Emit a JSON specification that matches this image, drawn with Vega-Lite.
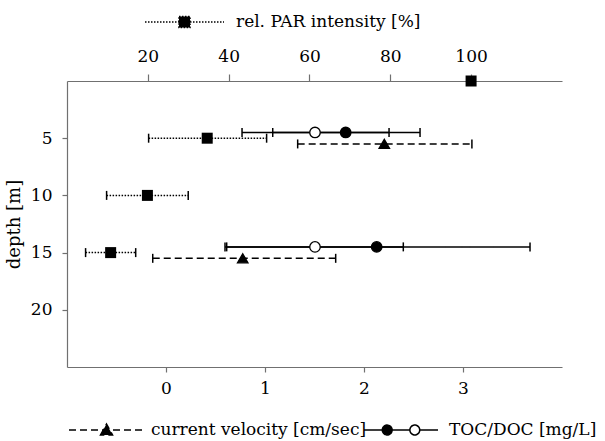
{
  "$schema": "https://vega.github.io/schema/vega-lite/v6.json",
  "width": 495,
  "height": 286,
  "autosize": {"type": "none"},
  "padding": {"left": 67, "top": 81, "right": 43, "bottom": 74},
  "background": "white",
  "config": {
    "view": {"stroke": null},
    "font": "DejaVu Serif",
    "axis": {
      "labelFont": "DejaVu Serif", "labelFontSize": 17, "labelColor": "black",
      "titleFont": "DejaVu Serif", "titleFontSize": 18, "titleFontWeight": "normal", "titleColor": "black",
      "domainColor": "#707070", "tickColor": "#707070", "domainWidth": 1.2, "tickWidth": 1.2,
      "tickSize": 5, "grid": false, "labelPadding": 9
    },
    "legend": {
      "labelFont": "DejaVu Serif", "labelFontSize": 17, "labelColor": "black",
      "labelLimit": 400, "padding": 0, "symbolFillColor": "black", "symbolStrokeColor": "black", "symbolStrokeWidth": 1.5
    }
  },
  "datasets": {
    "par": [
      {"depth": 0, "par": 100, "lo": null, "hi": null, "legend": "rel. PAR intensity [%]"},
      {"depth": 5, "par": 34.7, "lo": 20.2, "hi": 49.4, "legend": "rel. PAR intensity [%]"},
      {"depth": 10, "par": 19.9, "lo": 9.8, "hi": 30.0, "legend": "rel. PAR intensity [%]"},
      {"depth": 15, "par": 10.8, "lo": 4.6, "hi": 17.0, "legend": "rel. PAR intensity [%]"}
    ],
    "obs": [
      {"series": "velocity", "depth": 5.5, "val": 2.205, "lo": 1.33, "hi": 3.09, "legend": "current velocity [cm/sec]"},
      {"series": "TOC", "depth": 4.5, "val": 1.815, "lo": 1.078, "hi": 2.566, "legend": "TOC/DOC [mg/L]"},
      {"series": "DOC", "depth": 4.5, "val": 1.505, "lo": 0.768, "hi": 2.253, "legend": "TOC/DOC [mg/L]"},
      {"series": "velocity", "depth": 15.5, "val": 0.775, "lo": -0.134, "hi": 1.714, "legend": "current velocity [cm/sec]"},
      {"series": "TOC", "depth": 14.5, "val": 2.128, "lo": 0.613, "hi": 3.677, "legend": "TOC/DOC [mg/L]"},
      {"series": "DOC", "depth": 14.5, "val": 1.505, "lo": 0.596, "hi": 2.397, "legend": "TOC/DOC [mg/L]"}
    ]
  },
  "layer": [
    {
      "data": {"name": "par"},
      "transform": [{"filter": "isValid(datum.lo)"}],
      "mark": {"type": "rule", "strokeWidth": 1.5, "color": "black"},
      "encoding": {
        "x": {"field": "lo", "type": "quantitative", "scale": {"domain": [0, 122.5], "nice": false, "zero": false},
              "axis": {"orient": "top", "values": [20, 40, 60, 80, 100], "title": null, "tickSize": 7, "labelPadding": 9}},
        "x2": {"field": "hi"},
        "y": {"field": "depth", "type": "quantitative", "scale": {"domain": [0, 25], "reverse": true, "nice": false, "zero": false},
              "axis": {"values": [5, 10, 15, 20], "title": "depth [m]", "titlePadding": 7, "labelPadding": 10}},
        "strokeDash": {"field": "legend", "type": "nominal",
          "scale": {"domain": ["rel. PAR intensity [%]"], "range": [[1.5, 1.5]]},
          "legend": {"title": null, "orient": "none", "legendX": 77, "legendY": -70, "direction": "horizontal",
            "symbolSize": 6241, "clipHeight": 22, "labelOffset": 11,
            "symbolType": "M-1,0H1M-0.14,-0.14H0.14V0.14H-0.14Z"}}
      }
    },
    {
      "data": {"name": "par"},
      "transform": [{"filter": "isValid(datum.lo)"}],
      "mark": {"type": "tick", "orient": "vertical", "size": 9, "thickness": 1.5, "color": "black", "opacity": 1},
      "encoding": {
        "x": {"field": "lo", "type": "quantitative", "scale": {"domain": [0, 122.5], "nice": false, "zero": false}, "axis": null},
        "y": {"field": "depth", "type": "quantitative", "scale": {"domain": [0, 25], "reverse": true, "nice": false, "zero": false}}
      }
    },
    {
      "data": {"name": "par"},
      "transform": [{"filter": "isValid(datum.hi)"}],
      "mark": {"type": "tick", "orient": "vertical", "size": 9, "thickness": 1.5, "color": "black", "opacity": 1},
      "encoding": {
        "x": {"field": "hi", "type": "quantitative", "scale": {"domain": [0, 122.5], "nice": false, "zero": false}, "axis": null},
        "y": {"field": "depth", "type": "quantitative", "scale": {"domain": [0, 25], "reverse": true, "nice": false, "zero": false}}
      }
    },
    {
      "data": {"name": "par"},
      "mark": {"type": "point", "shape": "square", "filled": true, "color": "black", "size": 121, "opacity": 1},
      "encoding": {
        "x": {"field": "par", "type": "quantitative", "scale": {"domain": [0, 122.5], "nice": false, "zero": false}, "axis": null},
        "y": {"field": "depth", "type": "quantitative", "scale": {"domain": [0, 25], "reverse": true, "nice": false, "zero": false}}
      }
    },
    {
      "data": {"name": "obs"},
      "transform": [{"filter": "datum.series == 'velocity'"}],
      "mark": {"type": "rule", "strokeWidth": 1.5, "color": "black"},
      "encoding": {
        "x": {"field": "lo", "type": "quantitative", "scale": {"domain": [-1, 4], "nice": false, "zero": false},
              "axis": {"orient": "bottom", "values": [0, 1, 2, 3], "title": null, "labelPadding": 8}},
        "x2": {"field": "hi"},
        "y": {"field": "depth", "type": "quantitative", "scale": {"domain": [0, 25], "reverse": true, "nice": false, "zero": false}},
        "strokeDash": {"field": "legend", "type": "nominal",
          "scale": {"domain": ["current velocity [cm/sec]"], "range": [[7, 4]]},
          "legend": {"title": null, "orient": "none", "legendX": 1, "legendY": 338, "direction": "horizontal",
            "symbolSize": 5625, "clipHeight": 22, "labelOffset": 6,
            "symbolType": "M-1,0H1M-0.16,0.13L0,-0.16L0.16,0.13Z"}}
      }
    },
    {
      "data": {"name": "obs"},
      "transform": [{"filter": "datum.series != 'velocity'"}],
      "mark": {"type": "rule", "strokeWidth": 1.5, "color": "black"},
      "encoding": {
        "x": {"field": "lo", "type": "quantitative", "scale": {"domain": [-1, 4], "nice": false, "zero": false}, "axis": null},
        "x2": {"field": "hi"},
        "y": {"field": "depth", "type": "quantitative", "scale": {"domain": [0, 25], "reverse": true, "nice": false, "zero": false}},
        "strokeDash": {"field": "legend", "type": "nominal",
          "scale": {"domain": ["TOC/DOC [mg/L]"], "range": [[1, 0]]},
          "legend": {"title": null, "orient": "none", "legendX": 296, "legendY": 338, "direction": "horizontal",
            "symbolSize": 5476, "clipHeight": 22, "labelOffset": 10,
            "symbolType": "M-1,0H0.24M0.506,0H1M-0.506,0A0.133,0.133 0 1,0 -0.24,0A0.133,0.133 0 1,0 -0.506,0ZM0.24,0A0.133,0.133 0 1,0 0.506,0A0.133,0.133 0 1,0 0.24,0ZM0.24,0A0.133,0.133 0 1,1 0.506,0A0.133,0.133 0 1,1 0.24,0Z"}}
      }
    },
    {
      "data": {"name": "obs"},
      "mark": {"type": "tick", "orient": "vertical", "size": 9, "thickness": 1.5, "color": "black", "opacity": 1},
      "encoding": {
        "x": {"field": "lo", "type": "quantitative", "scale": {"domain": [-1, 4], "nice": false, "zero": false}, "axis": null},
        "y": {"field": "depth", "type": "quantitative", "scale": {"domain": [0, 25], "reverse": true, "nice": false, "zero": false}}
      }
    },
    {
      "data": {"name": "obs"},
      "mark": {"type": "tick", "orient": "vertical", "size": 9, "thickness": 1.5, "color": "black", "opacity": 1},
      "encoding": {
        "x": {"field": "hi", "type": "quantitative", "scale": {"domain": [-1, 4], "nice": false, "zero": false}, "axis": null},
        "y": {"field": "depth", "type": "quantitative", "scale": {"domain": [0, 25], "reverse": true, "nice": false, "zero": false}}
      }
    },
    {
      "data": {"name": "obs"},
      "mark": {"type": "point", "stroke": "black", "strokeWidth": 1.3, "size": 110, "opacity": 1, "fillOpacity": 1},
      "encoding": {
        "x": {"field": "val", "type": "quantitative", "scale": {"domain": [-1, 4], "nice": false, "zero": false}, "axis": null},
        "y": {"field": "depth", "type": "quantitative", "scale": {"domain": [0, 25], "reverse": true, "nice": false, "zero": false}},
        "shape": {"field": "series", "type": "nominal", "scale": {"domain": ["velocity", "TOC", "DOC"], "range": ["triangle-up", "circle", "circle"]}, "legend": null},
        "fill": {"field": "series", "type": "nominal", "scale": {"domain": ["velocity", "TOC", "DOC"], "range": ["black", "black", "white"]}, "legend": null}
      }
    }
  ],
  "resolve": {"scale": {"x": "independent", "strokeDash": "independent"}, "legend": {"strokeDash": "independent"}}
}
